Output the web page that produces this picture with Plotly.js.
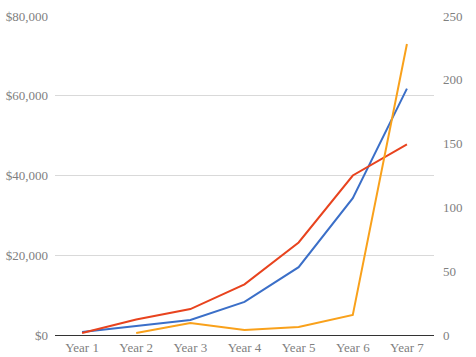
<!DOCTYPE html>
<html><head><meta charset="utf-8">
<script src="https://cdn.plot.ly/plotly-3.0.1.min.js"></script>
<style>html,body{margin:0;padding:0;background:#fff;}#chart{width:476px;height:357px;}</style>
</head><body><div id="chart"></div>
<script>
var years = ["Year 1","Year 2","Year 3","Year 4","Year 5","Year 6","Year 7"];
var blueValues = [750, 2250, 3750, 8300, 17000, 34300, 61800];
var redValues = [500, 3900, 6500, 12700, 23200, 40000, 47800];
var orangeValues = [null, 1.5, 9.4, 3.9, 6.3, 15.7, 228];
var leftTicks = [0, 20000, 40000, 60000, 80000];
var leftTickText = ["$0", "$20,000", "$40,000", "$60,000", "$80,000"];
var rightTicks = [0, 50, 100, 150, 200, 250];

var traces = [
  {x: years, y: blueValues, type: "scatter", mode: "lines", line: {color: "#3B6FC8", width: 2}, yaxis: "y"},
  {x: years, y: redValues, type: "scatter", mode: "lines", line: {color: "#E8431E", width: 2}, yaxis: "y"},
  {x: years, y: orangeValues, type: "scatter", mode: "lines", line: {color: "#F9A11B", width: 2}, yaxis: "y2", connectgaps: false}
];
var tickFont = {family: "Liberation Serif, Times New Roman, serif", size: 13, color: "#808080"};
var layout = {
  width: 476, height: 357,
  margin: {l: 55, r: 42, t: 16, b: 22},
  showlegend: false,
  paper_bgcolor: "#fff", plot_bgcolor: "#fff",
  xaxis: {type: "category", range: [-0.5, 6.5], showgrid: false, zeroline: false,
    showline: false, ticks: "", tickfont: tickFont, fixedrange: true, ticklabelstandoff: 3},
  yaxis: {range: [0, 80000], tickvals: leftTicks, ticktext: leftTickText, showgrid: true,
    gridcolor: "#d9d9d9", gridwidth: 1, zeroline: true, zerolinecolor: "#333", zerolinewidth: 1,
    showline: false, ticks: "", tickfont: tickFont, ticklabelstandoff: 6},
  yaxis2: {range: [0, 250], tickvals: rightTicks, overlaying: "y", side: "right", showgrid: false,
    zeroline: false, showline: false, ticks: "", tickfont: tickFont, ticklabelstandoff: 8}
};
Plotly.newPlot("chart", traces, layout, {displayModeBar: false, staticPlot: true});
</script></body></html>
